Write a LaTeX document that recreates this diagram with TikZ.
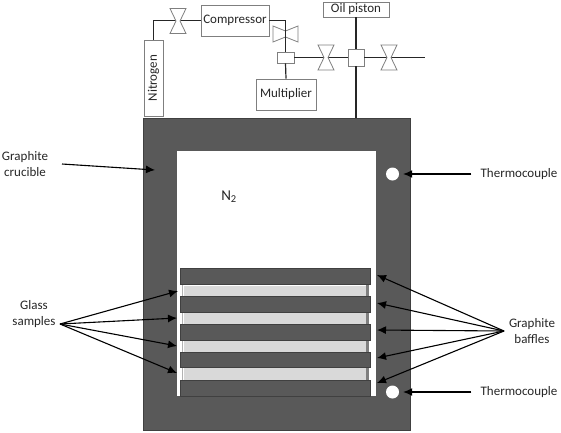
\documentclass[tikz,border=0pt]{standalone}
\usepackage{fontspec}
\setmainfont{Carlito}
\definecolor{crucgray}{HTML}{595959}
\definecolor{edgegray}{HTML}{404040}
\definecolor{glassgray}{HTML}{D9D9D9}
\definecolor{linegray}{HTML}{7F7F7F}
\usetikzlibrary{arrows.meta}
\tikzset{
  every node/.style={font=\fontsize{13}{15.5}\selectfont, text=black!85},
  rbox/.style={draw=linegray, fill=white, line width=.8pt, inner sep=0pt, anchor=center},
  pipe/.style={draw=black!85, line width=1.2pt},
  arr/.style={draw=black, line width=1.1pt, -{Latex[length=9pt,width=8pt]}},
  lab/.style={align=center, inner sep=0pt},
  valvenode/.style={inner sep=0pt, minimum width=8pt, minimum height=8pt},
  valveline/.style={draw=linegray, fill=white, line width=.8pt, line join=miter},
  baffle/.style={draw=edgegray, fill=crucgray, line width=.7pt, inner sep=0pt, minimum width=190pt},
  glass/.style={draw=none, fill=glassgray, inner sep=0pt, minimum width=182pt},
  hole/.style={circle, fill=white, draw=none, inner sep=0pt, minimum size=13pt}
}
\newcommand{\valveV}[3]{%
  \node[valvenode] (#1) at (#2,#3) {};
  \draw[valveline, shift={(#1.center)}] (-8,-12.5) -- (8,-12.5) -- (2,0) -- (8,12.5) -- (-8,12.5) -- (-2,0) -- cycle;
}
\newcommand{\valveH}[3]{%
  \node[valvenode] (#1) at (#2,#3) {};
  \draw[valveline, shift={(#1.center)}] (-12.5,-8) -- (0,-3) -- (12.5,-8) -- (12.5,8) -- (0,3) -- (-12.5,8) -- cycle;
}
\begin{document}
\begin{tikzpicture}[x=1pt,y=-1pt]
\useasboundingbox (0,0) rectangle (561,432);
% crucible
\node[draw=edgegray, fill=crucgray, line width=.7pt, inner sep=0pt, minimum width=267pt, minimum height=312pt] (crucible) at (276.5,274) {};
\node[fill=white, draw=none, inner sep=0pt, minimum width=199pt, minimum height=245pt] (cavity) at (276.5,273.5) {};
% side edges of the glass stack
\fill[linegray] (366,284) rectangle (368.5,380);
\fill[linegray!60] (181.5,284) rectangle (183,380);
\node[glass, minimum height=11pt] (g1) at (275,291) {};
\node[glass, minimum height=12pt] (g2) at (275,318) {};
\node[glass, minimum height=12pt] (g3) at (275,346) {};
\node[glass, minimum height=12pt] (g4) at (275,374) {};
% baffles
\node[baffle, minimum height=16pt] (b1) at (275,276) {};
\node[baffle, minimum height=16pt] (b2) at (275,304) {};
\node[baffle, minimum height=16pt] (b3) at (275,332) {};
\node[baffle, minimum height=15.5pt] (b4) at (275,359.8) {};
\node[baffle, minimum height=16pt] (b5) at (275,388) {};
% thermocouple holes
\node[hole] (h1) at (392.5,174) {};
\node[hole] (h2) at (392.5,392) {};
% N2
\node[lab, font=\fontsize{15}{17}\selectfont] (n2) at (229,197) {N\textsubscript{2}};
% labels
\node[lab] (lcruc) at (25,164) {Graphite\\crucible};
\node[lab] (lglass) at (34,314) {Glass\\samples};
\node[lab] (lbaf) at (532,331) {Graphite\\baffles};
\node[lab] (lt1) at (519,174) {Thermocouple};
\node[lab] (lt2) at (519,392) {Thermocouple};
\coordinate (cr) at (155,170);
\coordinate (gs) at (60,324);
\coordinate (bs) at (504,331);
\coordinate (gt1) at (178,291);
\coordinate (gt2) at (177,318);
\coordinate (gt3) at (177,346);
\coordinate (gt4) at (177,373);
\coordinate (bt1) at (377,275);
\coordinate (bt2) at (377,303);
\coordinate (bt3) at (377,330);
\coordinate (bt4) at (377,358);
\coordinate (bt5) at (377,383);
\draw[arr] (62,164) -- (cr);
\draw[arr] (gs) -- (gt1);
\draw[arr] (gs) -- (gt2);
\draw[arr] (gs) -- (gt3);
\draw[arr] (gs) -- (gt4);
\draw[arr] (bs) -- (bt1);
\draw[arr] (bs) -- (bt2);
\draw[arr] (bs) -- (bt3);
\draw[arr] (bs) -- (bt4);
\draw[arr] (bs) -- (bt5);
\draw[arr] ([xshift=-9pt]lt1.west) -- ([xshift=4pt]h1.east);
\draw[arr] ([xshift=-9pt]lt2.west) -- ([xshift=4pt]h2.east);
% boxes
\node[rbox, minimum width=19pt, minimum height=76pt] (nit) at (153.5,78) {\rotatebox{90}{Nitrogen}};
\node[rbox, minimum width=68pt, minimum height=31pt] (comp) at (235,20.5) {Compressor};
\node[rbox, minimum width=60pt, minimum height=31pt] (mult) at (286,94.5) {Multiplier};
\node[rbox, minimum width=66pt, minimum height=15pt] (oil) at (356,9.5) {Oil piston};
\node[rbox, minimum width=17pt, minimum height=11pt] (j1) at (285.5,57.5) {};
\node[rbox, minimum width=16pt, minimum height=17pt] (j2) at (356,57.5) {};
\coordinate (end) at (425,57.5);
% pipes
\draw[pipe] (nit.north) |- (comp.west);
\draw[pipe] (comp.east) -| (j1.north);
\draw[pipe] (j1.south) -- (mult.north);
\draw[pipe] (j1.east) -- (j2.west);
\draw[pipe] (j2.east) -- (end);
\draw[pipe] (oil.south) -- (j2.north);
\draw[pipe] (j2.south) -- (crucible.north -| j2.south);
% valves
\valveV{v1}{178}{21}
\valveH{v2}{285.5}{34}
\valveV{v3}{326}{57.5}
\valveV{v4}{389}{57.5}
\draw[pipe] (v2.north) ++(0,-5) -- (v2.center);
\draw[pipe] (v2.south) ++(0,5) -- (v2.center);
\end{tikzpicture}
\end{document}
